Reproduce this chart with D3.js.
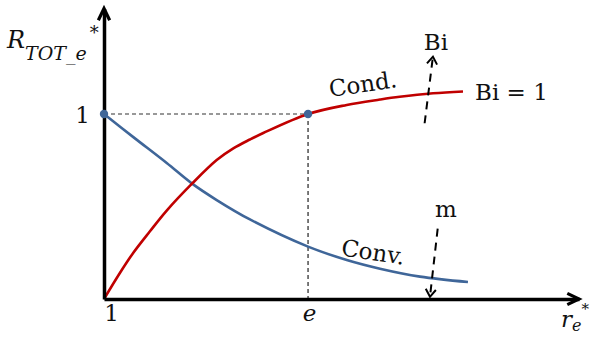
<!DOCTYPE html>
<html>
<head>
<meta charset="utf-8">
<script src="https://cdn.jsdelivr.net/npm/d3@7"></script>
<style>
  body { margin: 0; background: #fff; }
  svg { display: block; }
  text { font-family: "DejaVu Serif", "Liberation Serif", serif; fill: #111; }
</style>
</head>
<body>
<svg id="chart" width="590" height="337"></svg>
<script>
// Conduction curve (rises to 1 at r_e* = e, Bi = 1)
const condX = [1, 1.135, 1.247, 1.387, 1.528, 1.739, 1.949, 2.089, 2.229, 2.341, Math.E, 3.044, 3.324, 3.49, 3.771, 4.023];
const condY = [0, 0.142, 0.25, 0.366, 0.478, 0.622, 0.751, 0.814, 0.862, 0.897, 1.0, 1.049, 1.078, 1.093, 1.112, 1.122];

// Convection curve (falls from 1 at r_e* = 1)
const convX = [1, 1.247, 1.528, 1.739, 1.949, 2.229, Math.E, 3.044, 3.324, 3.661, 4.065];
const convY = [1, 0.875, 0.735, 0.625, 0.535, 0.43, 0.283, 0.211, 0.164, 0.121, 0.092];

// Tick values and labels
const xTickValues = [1, Math.E];
const xTickLabels = ["1", "e"];
const yTickValues = [1];
const yTickLabels = ["1"];

// Marked points where R_TOT_e* = 1
const markX = [1, Math.E];
const markY = [1, 1];

const svg = d3.select("#chart");
const W = 590, H = 337;
svg.append("rect").attr("width", W).attr("height", H).attr("fill", "#fff");

const x = d3.scaleLinear().domain([1, 5]).range([104, 579]);
const y = d3.scaleLinear().domain([0, 1]).range([299, 114]);
const yTop = 1.57;

const RED = "#c00000", BLUE = "#3f6699";

// Dashed guides to the e point
svg.append("line")
  .attr("x1", x(1)).attr("x2", x(Math.E)).attr("y1", y(1)).attr("y2", y(1))
  .attr("stroke", "#333").attr("stroke-width", 1.2).attr("stroke-dasharray", "4,3");
svg.append("line")
  .attr("x1", x(Math.E)).attr("x2", x(Math.E)).attr("y1", y(1)).attr("y2", y(0))
  .attr("stroke", "#222").attr("stroke-width", 1.2).attr("stroke-dasharray", "4,3");

// Curves
const line = d3.line().x(d => x(d[0])).y(d => y(d[1])).curve(d3.curveCatmullRom.alpha(0.5));
svg.append("path")
  .datum(convX.map((v, i) => [v, convY[i]]))
  .attr("d", line).attr("fill", "none").attr("stroke", BLUE).attr("stroke-width", 2.6);
svg.append("path")
  .datum(condX.map((v, i) => [v, condY[i]]))
  .attr("d", line).attr("fill", "none").attr("stroke", RED).attr("stroke-width", 2.6);

// Axes
const xAxis = d3.axisBottom(x).tickValues(xTickValues)
  .tickFormat((d, i) => xTickLabels[i]).tickSize(0).tickSizeOuter(0).tickPadding(8);
const gx = svg.append("g").attr("transform", `translate(0,${y(0)})`).call(xAxis);
gx.select(".domain").attr("stroke", "#000").attr("stroke-width", 3.5);
gx.selectAll(".tick text")
  .attr("font-family", "DejaVu Serif").attr("font-size", 23).attr("fill", "#111")
  .attr("font-style", (d, i) => i === 1 ? "italic" : "normal")
  .attr("dx", (d, i) => i === 0 ? 7 : 1).attr("dy", "0.6em");

const yAxis = d3.axisLeft(y.copy().domain([0, yTop]).range([y(0), y(yTop)])).tickValues(yTickValues)
  .tickFormat((d, i) => yTickLabels[i]).tickSize(0).tickSizeOuter(0).tickPadding(14);
const gy = svg.append("g").attr("transform", `translate(${x(1)},0)`).call(yAxis);
gy.select(".domain").attr("stroke", "#000").attr("stroke-width", 3.5);
gy.selectAll(".tick text")
  .attr("font-family", "DejaVu Serif").attr("font-size", 23).attr("fill", "#111")
  .attr("dy", "0.36em");

// Axis arrowheads
function chevron(tipX, tipY, fromX, fromY, len, halfAngle, width) {
  const a = Math.atan2(tipY - fromY, tipX - fromX);
  const p1 = [tipX - len * Math.cos(a - halfAngle), tipY - len * Math.sin(a - halfAngle)];
  const p2 = [tipX - len * Math.cos(a + halfAngle), tipY - len * Math.sin(a + halfAngle)];
  svg.append("path")
    .attr("d", `M${p1[0]},${p1[1]}L${tipX},${tipY}L${p2[0]},${p2[1]}`)
    .attr("fill", "none").attr("stroke", "#000").attr("stroke-width", width)
    .attr("stroke-linejoin", "miter").attr("stroke-linecap", "butt");
}
chevron(x(5), y(0), x(1), y(0), 13, 0.45, 3.2);
chevron(x(1), y(yTop), x(1), y(0), 13, 0.45, 3.2);

// Marked points
svg.selectAll("circle.mark").data(markX).join("circle")
  .attr("class", "mark")
  .attr("cx", d => x(d)).attr("cy", (d, i) => y(markY[i]))
  .attr("r", 4.2).attr("fill", BLUE);

// Trend arrows: increasing Bi, increasing m
function dashedArrow(x0, y0, x1, y1) {
  svg.append("line")
    .attr("x1", x(x0)).attr("y1", y(y0)).attr("x2", x(x1)).attr("y2", y(y1))
    .attr("stroke", "#000").attr("stroke-width", 2).attr("stroke-dasharray", "8,6");
  chevron(x(x1), y(y1), x(x0), y(y0), 9, 0.6, 2);
}
dashedArrow(3.70, 0.95, 3.77, 1.31);
dashedArrow(3.81, 0.38, 3.745, 0.012);

// Labels
function label(txt, px, py, opts = {}) {
  const t = svg.append("text").attr("x", px).attr("y", py)
    .attr("font-size", opts.size || 23)
    .attr("text-anchor", opts.anchor || "start")
    .text(txt);
  if (opts.rotate) t.attr("transform", `rotate(${opts.rotate},${px},${py})`);
  if (opts.italic) t.attr("font-style", "italic");
  return t;
}
label("Bi", 436, 50, { anchor: "middle" });
label("Bi = 1", 475, 100);
label("Cond.", 364, 92, { anchor: "middle", rotate: -8.5 });
label("Conv.", 372, 260, { anchor: "middle", rotate: 8.5 });
label("m", 446, 217, { anchor: "middle" });

// Axis titles
const yt = svg.append("text").attr("x", 7).attr("y", 48).attr("font-size", 24).attr("font-style", "italic");
yt.append("tspan").text("R");
yt.append("tspan").attr("font-size", 19).attr("dy", 12).text("TOT_e");
yt.append("tspan").attr("font-size", 18).attr("dy", -21).attr("dx", 3).text("*");

const xt = svg.append("text").attr("x", 561).attr("y", 327).attr("font-size", 23).attr("font-style", "italic");
xt.append("tspan").text("r");
xt.append("tspan").attr("font-size", 16).attr("dy", 4).text("e");
xt.append("tspan").attr("font-size", 15).attr("dy", -17).text("*");
</script>
</body>
</html>
